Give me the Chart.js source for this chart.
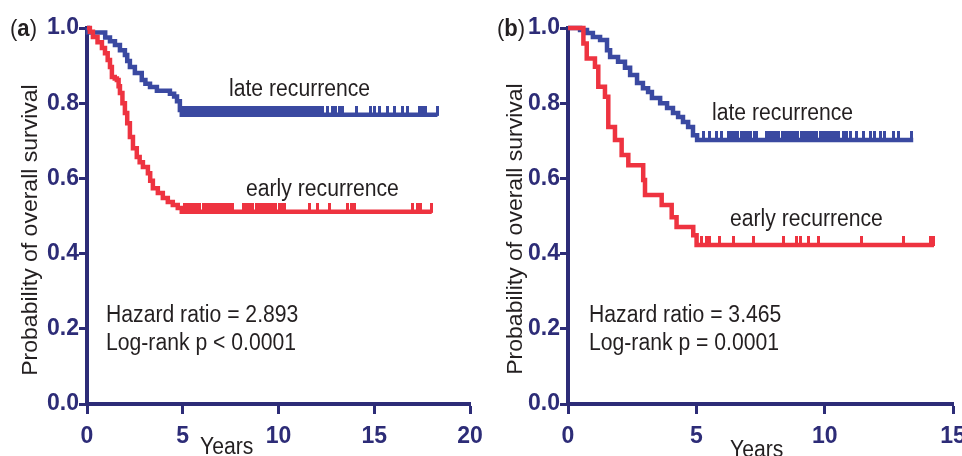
<!DOCTYPE html>
<html>
<head>
<meta charset="utf-8">
<script src="https://cdn.jsdelivr.net/npm/chart.js@4.4.1/dist/chart.umd.min.js"></script>
<style>
  html, body { margin: 0; padding: 0; background: #fff; overflow: hidden; }
  #wrap { position: relative; width: 962px; height: 456px; overflow: hidden; }
  canvas { position: absolute; top: 0; }
  #chartA { left: 0; }
  #chartB { left: 481px; }
</style>
</head>
<body>
<div id="wrap">
  <canvas id="chartA" width="495" height="456"></canvas>
  <canvas id="chartB" width="495" height="456"></canvas>
</div>
<script>
// tick labels
const yTickValues = [0, 0.2, 0.4, 0.6, 0.8, 1.0];
const xTicksA = [0, 5, 10, 15, 20];
const xTicksB = [0, 5, 10, 15];

// panel (a) - survival curves (years, probability)
const lateTimesA = [0, 0.05, 0.95, 1.2, 1.46, 1.72, 1.98, 2.1, 2.24, 2.5, 2.86, 3.05, 3.29, 3.65, 4.33, 4.55, 4.7, 4.85, 4.95, 18.3];
const lateSurvA  = [1.0, 0.988, 0.975, 0.965, 0.955, 0.941, 0.928, 0.912, 0.896, 0.88, 0.862, 0.852, 0.843, 0.833, 0.825, 0.818, 0.805, 0.782, 0.769, 0.769];
const earlyTimesA = [0, 0.15, 0.31, 0.55, 0.78, 0.94, 1.08, 1.2, 1.3, 1.45, 1.56, 1.65, 1.72, 1.85, 1.98, 2.1, 2.24, 2.4, 2.6, 2.75, 2.92, 3.18, 3.3, 3.44, 3.7, 3.96, 4.22, 4.48, 4.74, 4.95, 18.0];
const earlySurvA  = [1.0, 0.99, 0.976, 0.962, 0.947, 0.933, 0.915, 0.896, 0.87, 0.866, 0.862, 0.845, 0.827, 0.8, 0.774, 0.747, 0.71, 0.68, 0.657, 0.643, 0.63, 0.614, 0.594, 0.574, 0.561, 0.548, 0.537, 0.529, 0.521, 0.511, 0.511];
// censored observations (years)
const lateCensorA = [5.05, 5.15, 5.3, 5.4, 5.55, 5.65, 5.8, 5.9, 6.05, 6.15, 6.3, 6.45, 6.55, 6.7, 6.85, 6.95, 7.1, 7.25, 7.35, 7.5, 7.65, 7.8, 7.9, 8.05, 8.2, 8.35, 8.5, 8.6, 8.75, 8.9, 9.05, 9.2, 9.3, 9.45, 9.6, 9.75, 9.85, 10.0, 10.15, 10.3, 10.45, 10.55, 10.7, 10.85, 11.0, 11.15, 11.3, 11.45, 11.55, 11.7, 11.85, 12.0, 12.15, 12.3, 12.57, 12.83, 13.0, 13.18, 13.35, 14.05, 14.83, 15.0, 15.26, 15.69, 16.04, 16.47, 16.73, 17.34, 17.52, 17.66, 18.3];
const earlyCensorA = [5.1, 5.25, 5.35, 5.5, 5.62, 5.75, 5.88, 6.1, 6.22, 6.35, 6.48, 6.6, 6.72, 6.85, 6.98, 7.1, 7.22, 7.35, 7.48, 7.6, 8.15, 8.28, 8.4, 8.52, 8.65, 8.83, 8.95, 9.08, 9.2, 9.33, 9.45, 9.58, 9.7, 9.85, 10.05, 10.18, 10.3, 11.61, 12.05, 12.66, 13.6, 13.8, 13.96, 17.0, 17.25, 17.43, 18.0];

// panel (b)
const lateTimesB = [0, 0.47, 0.74, 0.97, 1.25, 1.52, 1.64, 1.95, 2.22, 2.42, 2.69, 2.92, 3.12, 3.27, 3.59, 3.86, 4.09, 4.29, 4.48, 4.68, 4.87, 5.03, 13.45];
const lateSurvB  = [1.0, 0.995, 0.987, 0.976, 0.968, 0.941, 0.923, 0.91, 0.894, 0.875, 0.854, 0.84, 0.83, 0.814, 0.8, 0.787, 0.774, 0.763, 0.75, 0.737, 0.715, 0.702, 0.702];
const earlyTimesB = [0, 0.6, 0.73, 1.05, 1.18, 1.44, 1.57, 1.83, 2.09, 2.35, 2.93, 3.0, 3.65, 4.04, 4.23, 4.88, 5.01, 14.26];
const earlySurvB  = [1.0, 0.959, 0.919, 0.897, 0.844, 0.817, 0.737, 0.702, 0.662, 0.635, 0.596, 0.556, 0.529, 0.497, 0.471, 0.449, 0.423, 0.423];
const lateCensorB = [5.27, 5.53, 5.79, 5.99, 6.25, 6.37, 6.5, 6.62, 6.75, 6.88, 7.0, 7.12, 7.25, 7.35, 7.74, 7.86, 7.98, 8.1, 8.22, 8.35, 8.47, 8.6, 8.72, 8.84, 8.96, 9.08, 9.2, 9.32, 9.45, 9.57, 9.7, 9.82, 9.94, 10.06, 10.18, 10.3, 10.43, 10.55, 10.73, 10.86, 10.99, 11.25, 11.51, 11.77, 11.96, 12.16, 12.35, 12.68, 12.87, 13.39];
const earlyCensorB = [5.21, 5.4, 5.53, 5.92, 6.44, 7.22, 8.39, 8.91, 9.04, 9.37, 9.76, 11.45, 13.07, 14.11, 14.24];

const NAVY = '#2d2c77';
const BLUE = '#3a49a1';
const RED = '#ee3340';
const INK = '#231f20';
const TICK_FONT = "'Liberation Sans', Arial, sans-serif";
const TEXT_FONT = "'Liberation Sans', Arial, sans-serif";

function toPoints(times, surv){ return times.map((t,i)=>({x:t, y:surv[i]})); }

function survAt(times, surv, t){
  let s = surv[0];
  for(let i=0;i<times.length;i++){ if(times[i] <= t) s = surv[i]; }
  return s;
}

function censorPoints(cens, times, surv){ return cens.map(t=>({x:t, y:survAt(times, surv, t)})); }

// censor mark: short vertical bar sitting on top of the line
function censorMark(color){
  const c = document.createElement('canvas');
  c.width = 3; c.height = 18;
  const g = c.getContext('2d');
  g.fillStyle = color;
  g.fillRect(0, 0, 3, 10);
  return c;
}

function curve(data, color){
  return { data, borderColor: color, borderWidth: 4.5, stepped: 'before', pointRadius: 0, fill: false, clip: 8 };
}
function ticksOf(data, color){
  return { data, showLine: false, pointStyle: censorMark(color), pointRadius: 5,
    pointBorderColor: color, pointBackgroundColor: color, clip: 10 };
}

// squeezed text, like the original figure lettering
function txt(ctx, s, x, y, size, weight, rot){
  ctx.save();
  ctx.translate(x, y);
  if(rot) ctx.rotate(rot);
  ctx.scale(rot ? 1 : 0.92, rot ? 0.92 : 1);
  ctx.font = (weight||'normal') + ' ' + size + 'px ' + TEXT_FONT;
  ctx.fillStyle = INK;
  ctx.textBaseline = 'alphabetic';
  ctx.textAlign = rot ? 'center' : 'left';
  ctx.fillText(s, 0, 0);
  const w = ctx.measureText(s).width * 0.92;
  ctx.restore();
  return w;
}

function notesPlugin(notes){
  return {
    id: 'notes',
    afterDraw(chart){
      const ctx = chart.ctx;
      // panel letter
      let x = notes.letter.x;
      x += txt(ctx, '(', x, notes.letter.y, 24);
      x += txt(ctx, notes.letter.s, x, notes.letter.y, 24, 'bold');
      txt(ctx, ')', x, notes.letter.y, 24);
      notes.lines.forEach(n => txt(ctx, n.s, n.x, n.y, 23));
      // y title
      txt(ctx, 'Probability of overall survival', notes.ytitle.x, notes.ytitle.y, 23, 'normal', -Math.PI/2);
    }
  };
}

function makePanel(id, xMax, xTicks, datasets, rightPad, notes){
  return new Chart(document.getElementById(id), {
    type: 'line',
    data: { datasets },
    options: {
      responsive: false,
      animation: false,
      events: [],
      layout: { padding: { top: 28, right: rightPad, left: 0, bottom: 0 } },
      plugins: { legend: { display: false }, tooltip: { enabled: false } },
      scales: {
        x: {
          type: 'linear', min: 0, max: xMax,
          afterBuildTicks: s => { s.ticks = xTicks.map(v => ({ value: v })); },
          afterFit: s => { s.height = 52; s.paddingLeft = 0; s.paddingRight = 0; },
          border: { display: true, color: NAVY, width: 4 },
          grid: { display: true, drawOnChartArea: false, drawTicks: true, tickLength: 10, tickColor: NAVY, tickWidth: 3 },
          ticks: { color: NAVY, padding: 9, maxRotation: 0, font: { family: TICK_FONT, size: 23, weight: 'bold' }, callback: v => String(v) }
        },
        y: {
          type: 'linear', min: 0, max: 1,
          afterBuildTicks: s => { s.ticks = yTickValues.map(v => ({ value: v })); },
          afterFit: s => { s.width = 87; s.paddingTop = 0; s.paddingBottom = 0; },
          border: { display: true, color: NAVY, width: 4 },
          grid: { display: true, drawOnChartArea: false, drawTicks: true, tickLength: 8, tickColor: NAVY, tickWidth: 3 },
          ticks: { color: NAVY, padding: 0, font: { family: TICK_FONT, size: 23, weight: 'bold' }, callback: v => Number(v).toFixed(1) }
        }
      }
    },
    plugins: [notesPlugin(notes)]
  });
}

makePanel('chartA', 20, xTicksA, [
  curve(toPoints(earlyTimesA, earlySurvA), RED),
  ticksOf(censorPoints(earlyCensorA, earlyTimesA, earlySurvA), RED),
  curve(toPoints(lateTimesA, lateSurvA), BLUE),
  ticksOf(censorPoints(lateCensorA, lateTimesA, lateSurvA), BLUE)
], 25, {
  letter: { s: 'a', x: 10, y: 36 },
  ytitle: { x: 37, y: 230 },
  lines: [
    { s: 'late recurrence', x: 229, y: 96 },
    { s: 'early recurrence', x: 246, y: 196 },
    { s: 'Hazard ratio = 2.893', x: 106, y: 322 },
    { s: 'Log-rank p < 0.0001', x: 106, y: 350 },
    { s: 'Years', x: 200, y: 454 }
  ]
});

makePanel('chartB', 15, xTicksB, [
  curve(toPoints(earlyTimesB, earlySurvB), RED),
  ticksOf(censorPoints(earlyCensorB, earlyTimesB, earlySurvB), RED),
  curve(toPoints(lateTimesB, lateSurvB), BLUE),
  ticksOf(censorPoints(lateCensorB, lateTimesB, lateSurvB), BLUE)
], 23, {
  letter: { s: 'b', x: 16, y: 36 },
  ytitle: { x: 41, y: 229 },
  lines: [
    { s: 'late recurrence', x: 231, y: 120 },
    { s: 'early recurrence', x: 249, y: 226 },
    { s: 'Hazard ratio = 3.465', x: 108, y: 322 },
    { s: 'Log-rank p = 0.0001', x: 108, y: 350 },
    { s: 'Years', x: 249, y: 457 }
  ]
});
</script>
</body>
</html>
